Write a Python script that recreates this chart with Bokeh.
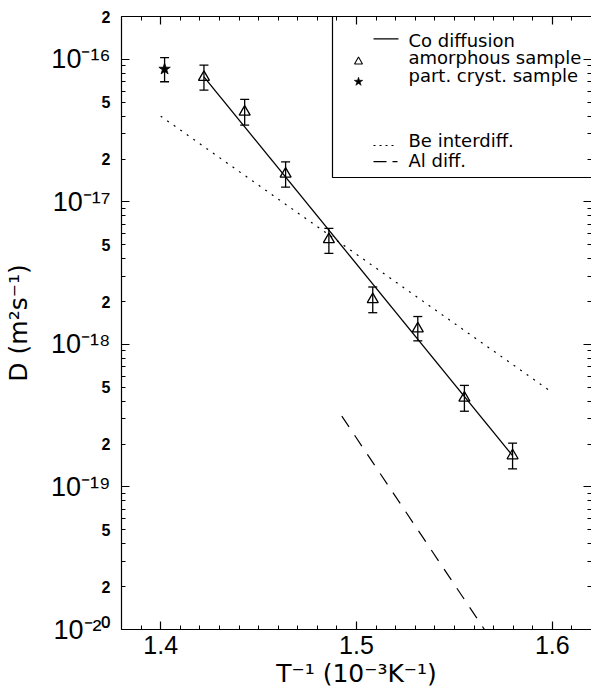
from bokeh.plotting import figure
from bokeh.models import (ColumnDataSource, FixedTicker, LinearAxis, LogAxis, Range1d,
                          LinearScale, CustomJSTickFormatter, Whisker, TeeHead,
                          BoxAnnotation)
from bokeh.core.properties import value
from bokeh.embed import file_html
from bokeh.resources import INLINE

# ---------------- data ----------------
amorph_x = [1.4221, 1.4429, 1.4638, 1.4859, 1.5083, 1.5313, 1.5551, 1.5797]
amorph_D = [7.5e-17, 4.28e-17, 1.57e-17, 5.45e-18, 2.07e-18, 1.29e-18, 4.21e-19, 1.66e-19]
amorph_up = [9.12e-17, 5.24e-17, 1.91e-17, 6.53e-18, 2.53e-18, 1.57e-18, 5.16e-19, 2.03e-19]
amorph_lo = [6.09e-17, 3.46e-17, 1.27e-17, 4.36e-18, 1.67e-18, 1.06e-18, 3.40e-19, 1.34e-19]

cryst_x = [1.402]
cryst_D = [8.55e-17]
cryst_up = [1.03e-16]
cryst_lo = [6.97e-17]

fit_x = [1.4221, 1.5797]
fit_D = [7.55e-17, 1.66e-19]

be_x = [1.40, 1.60]
be_D = [4.0e-17, 4.6e-19]

al_x = [1.4925, 1.60]
al_D = [3.14e-19, 1.94e-21]

x_major = [1.4, 1.5, 1.6]
decade_exps = [-20, -19, -18, -17, -16]
small_vals = [2e-16, 5e-17, 2e-17, 5e-18, 2e-18, 5e-19, 2e-19, 5e-20, 2e-20]

legend_labels = ["Co diffusion", "amorphous sample", "part. cryst. sample",
                 "Be interdiff.", "Al diff."]

X_START, X_END = 1.38, 1.62
Y_START, Y_END = 1e-20, 2e-16

TICK_FONT = "Liberation Sans"
LABEL_FONT = "DejaVu Sans"

# ---------------- figure ----------------
p = figure(width=591, height=696, x_range=(X_START, X_END), y_range=(Y_START, Y_END),
           y_axis_type="log", output_backend="svg", toolbar_location=None,
           min_border_left=121, min_border_top=16, min_border_bottom=67, min_border_right=0)
p.outline_line_color = None
p.xgrid.visible = False
p.ygrid.visible = False
p.background_fill_color = "white"
p.border_fill_color = "white"

x_minor = [round(1.38 + 0.01 * i, 2) for i in range(25)]
y_major = [10.0 ** e for e in decade_exps]
y_minor = [k * 10.0 ** e for e in range(-21, -15) for k in range(2, 10)]

sup_js = """
const sup = {'-':'\u207b','0':'\u2070','1':'\u00b9','2':'\u00b2','3':'\u00b3','4':'\u2074',
             '5':'\u2075','6':'\u2076','7':'\u2077','8':'\u2078','9':'\u2079'};
const e = Math.round(Math.log10(tick));
return '10' + String(e).split('').map(c => sup[c]).join('');
"""
mant_js = """
const e = Math.floor(Math.log10(tick) + 1e-9);
return String(Math.round(tick / Math.pow(10, e)));
"""

def style_axis(ax, ticker, major_in=8, minor_in=4):
    ax.ticker = ticker
    ax.major_tick_in = major_in
    ax.major_tick_out = 0
    ax.minor_tick_in = minor_in
    ax.minor_tick_out = 0
    ax.axis_line_color = "black"
    ax.axis_line_width = 1.2
    ax.major_tick_line_color = "black"
    ax.minor_tick_line_color = "black"
    ax.major_tick_line_width = 1.2
    ax.minor_tick_line_width = 1.0
    ax.major_label_text_color = "black"
    ax.axis_label_text_color = "black"

# bottom
xa = p.xaxis[0]
style_axis(xa, FixedTicker(ticks=x_major, minor_ticks=x_minor))
xa.major_label_text_font = TICK_FONT
xa.major_label_text_font_size = "25px"
xa.major_label_standoff = 6
xa.axis_label = "T\u207b\u00b9 (10\u207b\u00b3K\u207b\u00b9)"
xa.axis_label_text_font = LABEL_FONT
xa.axis_label_text_font_size = "25px"
xa.axis_label_text_font_style = "normal"
xa.axis_label_standoff = 2

# left (inner): decade labels and all ticks
ya = p.yaxis[0]
style_axis(ya, FixedTicker(ticks=y_major, minor_ticks=y_minor))
ya.formatter = CustomJSTickFormatter(code=sup_js)
ya.major_label_text_font = TICK_FONT
ya.major_label_text_font_size = "27px"
ya.major_label_standoff = 11

# left (outer): small "2"/"5" labels pulled back next to the frame, plus the axis title
ya2 = LogAxis()
style_axis(ya2, FixedTicker(ticks=small_vals, minor_ticks=[]), major_in=0, minor_in=0)
ya2.axis_line_color = None
ya2.major_tick_line_color = None
ya2.minor_tick_line_color = None
ya2.formatter = CustomJSTickFormatter(code=mant_js)
ya2.major_label_text_font = TICK_FONT
ya2.major_label_text_font_size = "16px"
ya2.major_label_text_font_style = "bold"
ya2.major_label_standoff = -63
ya2.axis_label = "D (m\u00b2s\u207b\u00b9)"
ya2.axis_label_text_font = LABEL_FONT
ya2.axis_label_text_font_size = "25px"
ya2.axis_label_text_font_style = "normal"
ya2.axis_label_standoff = 66
p.add_layout(ya2, "left")

# top
ta = LinearAxis()
style_axis(ta, FixedTicker(ticks=x_major, minor_ticks=x_minor))
ta.formatter = CustomJSTickFormatter(code="return ''")
ta.major_label_standoff = 0
p.add_layout(ta, "above")

# right
ra = LogAxis()
style_axis(ra, FixedTicker(ticks=y_major, minor_ticks=y_minor))
ra.formatter = CustomJSTickFormatter(code="return ''")
ra.major_label_standoff = 0
ra.axis_line_color = None
p.add_layout(ra, "right")

# ---------------- data marks ----------------
p.line(be_x, be_D, line_color="black", line_width=1.2, line_dash="2 6")
p.line(al_x, al_D, line_color="black", line_width=1.2, line_dash="13 10")
p.line(fit_x, fit_D, line_color="black", line_width=1.3)

am_src = ColumnDataSource(dict(x=amorph_x, D=amorph_D, up=amorph_up, lo=amorph_lo))
cr_src = ColumnDataSource(dict(x=cryst_x, D=cryst_D, up=cryst_up, lo=cryst_lo))
for src in (am_src, cr_src):
    p.add_layout(Whisker(source=src, base="x", upper="up", lower="lo", dimension="height",
                         line_color="black", line_width=1.3,
                         upper_head=TeeHead(size=9, line_width=1.3, line_color="black"),
                         lower_head=TeeHead(size=9, line_width=1.3, line_color="black")))
p.scatter("x", "D", source=am_src, marker="triangle", size=11, fill_color=None,
          line_color="black", line_width=1.3)
p.scatter("x", "D", source=cr_src, marker="star", size=12, fill_color="black",
          line_color="black", line_width=0.8)

# ---------------- legend (frame pixel coordinates) ----------------
p.extra_x_ranges = {"lx": Range1d(0, 470)}
p.extra_y_ranges = {"ly": Range1d(613, 0)}
p.extra_x_scales = {"lx": LinearScale()}
p.extra_y_scales = {"ly": LinearScale()}

p.add_layout(BoxAnnotation(left=211, right=520, top=-5, bottom=161,
                           x_range_name="lx", y_range_name="ly",
                           fill_color=None, fill_alpha=0.0,
                           line_color="black", line_alpha=1.0, line_width=1.2,
                           level="underlay"))

leg = dict(x_range_name="lx", y_range_name="ly")
p.line([252, 277], [22.3, 22.3], line_color="black", line_width=1.3, **leg)
p.scatter([237], [45.2], marker="triangle", size=8, fill_color=None, line_color="black",
          line_width=1.1, **leg)
p.scatter([237], [65.2], marker="star", size=9, fill_color="black", line_color="black",
          line_width=0.6, **leg)
p.line([252, 273], [129, 129], line_color="black", line_width=1.2, line_dash="2 4", **leg)
p.line([252, 276], [145.2, 145.2], line_color="black", line_width=1.2, line_dash="13 6", **leg)

leg_src = ColumnDataSource(dict(x=[287] * 5, y=[24, 41, 59, 124, 144], t=legend_labels))
p.text("x", "y", text="t", source=leg_src, text_font=value(LABEL_FONT),
       text_font_size="18px", text_baseline="alphabetic", text_align="left",
       text_color="black", **leg)

open("out.html", "w").write(file_html(p, INLINE))
